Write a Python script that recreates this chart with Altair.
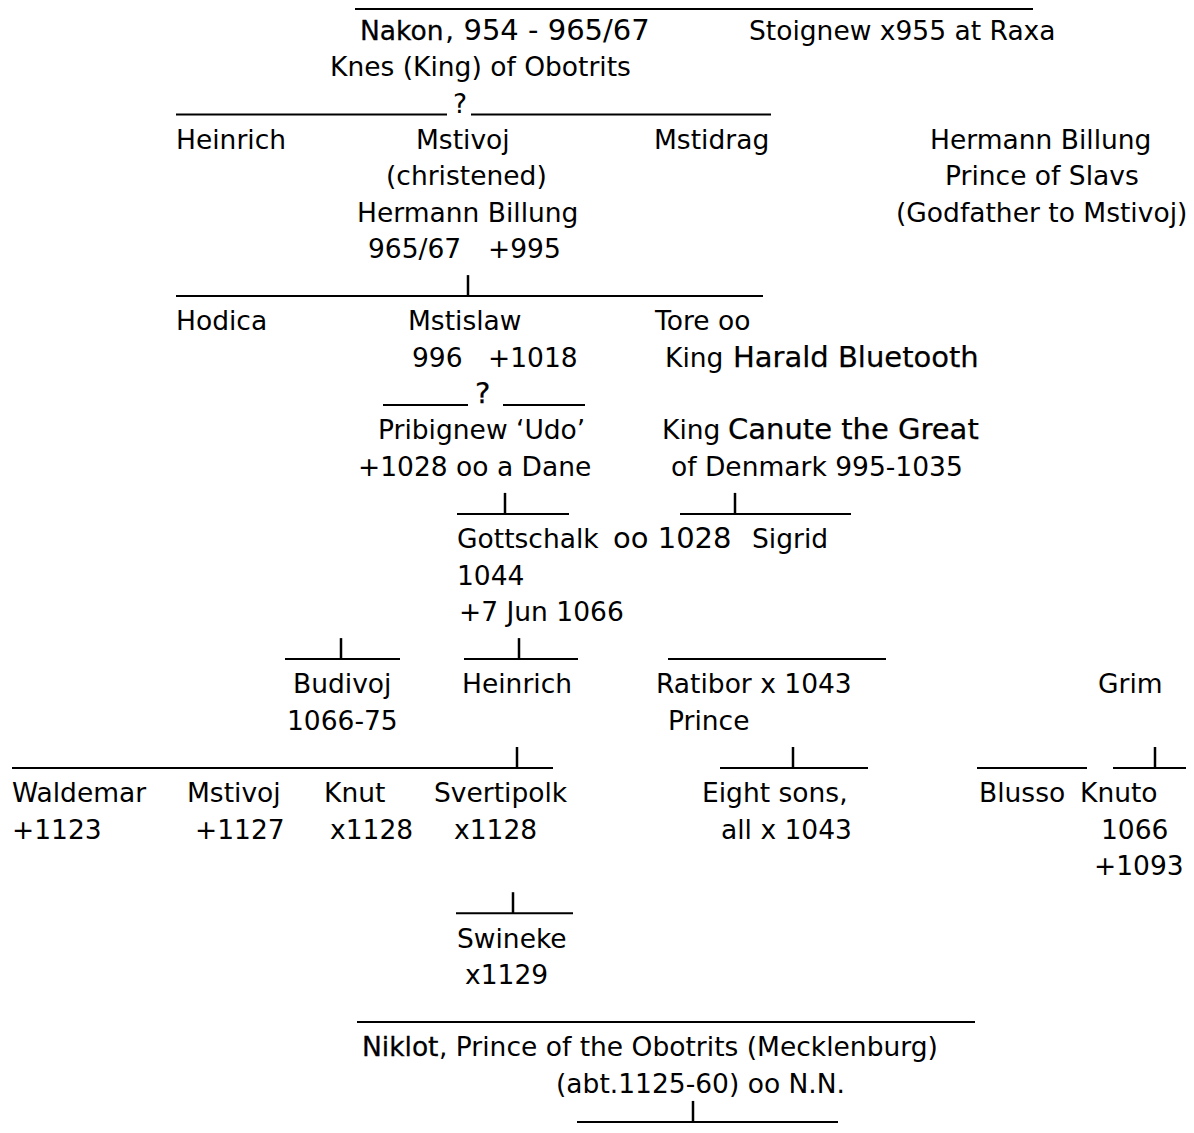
import altair as alt
import pandas as pd

# ---- genealogy text items: row, x-left, label, style ----
rows = [1, 1, 1,
        2,
        3,
        4, 4, 4, 4,
        5, 5,
        6, 6,
        7, 7,
        9, 9, 9,
        10, 10, 10, 10,
        11,
        12, 12, 12,
        13, 13,
        15, 15, 15,
        16,
        17,
        19, 19, 19, 19,
        20, 20,
        22, 22, 22, 22, 22, 22, 22,
        23, 23, 23, 23, 23, 23,
        24,
        26,
        27,
        29, 29,
        30]
xs = [360, 445, 749,
      330,
      453,
      176, 416, 654, 930,
      386, 945,
      357, 896,
      368, 488,
      176, 408, 655,
      412, 488, 665, 733,
      475,
      378, 662, 728,
      358, 671,
      457, 613, 752,
      457,
      459,
      293, 462, 656, 1098,
      287, 668,
      12, 187, 324, 434, 702, 979, 1080,
      12, 195, 330, 454, 721, 1101,
      1094,
      457,
      465,
      362, 439,
      556]
labels = ["Nakon", ", 954 - 965/67", "Stoignew x955 at Raxa",
          "Knes (King) of Obotrits",
          "?",
          "Heinrich", "Mstivoj", "Mstidrag", "Hermann Billung",
          "(christened)", "Prince of Slavs",
          "Hermann Billung", "(Godfather to Mstivoj)",
          "965/67", "+995",
          "Hodica", "Mstislaw", "Tore oo",
          "996", "+1018", "King", "Harald Bluetooth",
          "?",
          "Pribignew \u2018Udo\u2019", "King", "Canute the Great",
          "+1028 oo a Dane", "of Denmark 995-1035",
          "Gottschalk", "oo 1028", "Sigrid",
          "1044",
          "+7 Jun 1066",
          "Budivoj", "Heinrich", "Ratibor x 1043", "Grim",
          "1066-75", "Prince",
          "Waldemar", "Mstivoj", "Knut", "Svertipolk", "Eight sons,", "Blusso", "Knuto",
          "+1123", "+1127", "x1128", "x1128", "all x 1043", "1066",
          "+1093",
          "Swineke",
          "x1129",
          "Niklot", ", Prince of the Obotrits (Mecklenburg)",
          "(abt.1125-60) oo N.N."]
styles = ["name", "wide", "main",
          "main",
          "main",
          "main", "main", "main", "main",
          "main", "main",
          "main", "main",
          "main", "main",
          "main", "main", "main",
          "main", "main", "main", "king",
          "king",
          "main", "main", "king",
          "main", "main",
          "main", "wide", "main",
          "main",
          "main",
          "main", "main", "main", "main",
          "main", "main",
          "main", "main", "main", "main", "main", "main", "main",
          "main", "main", "main", "main", "main", "main",
          "main",
          "main",
          "main",
          "name", "main",
          "main"]

# ---- connector lines (underscore runs) ----
line_rows = [0, 3, 3, 8, 11, 11, 14, 14, 18, 18, 18, 21, 21, 21, 21, 25, 28, 30.75]
line_x1 = [355, 176, 471, 176, 383, 503, 457, 680, 285, 464, 668, 12, 720, 977, 1113, 456, 357, 577]
line_x2 = [1033, 447, 771, 763, 468, 585, 569, 851, 400, 578, 886, 553, 868, 1087, 1192, 573, 975, 838]

# ---- vertical joints "|" ----
tick_rows = [8, 14, 14, 18, 18, 21, 21, 21, 25, 30.75]
tick_x = [468, 505, 735, 341, 519, 517, 793, 1155, 513, 693]

ROW0 = 40.0
STEP = 36.3
TOP = 9.0


def base(r):
    return ROW0 + (r - 1) * STEP


text_df = pd.DataFrame({"row": rows, "x": xs, "label": labels, "style": styles})
text_df["y"] = text_df["row"].map(base)
line_df = pd.DataFrame({"row": line_rows, "x": line_x1, "x2": line_x2})
line_df["y"] = (line_df["row"].map(base) + 2).clip(lower=TOP)
tick_df = pd.DataFrame({"row": tick_rows, "x": tick_x})
tick_df["y"] = tick_df["row"].map(base) - 19
tick_df["y2"] = tick_df["row"].map(base) + 2

W = 1178
H = 1117
xs_ = alt.Scale(domain=[8, 8 + W], nice=False, zero=False)
ys_ = alt.Scale(domain=[8, 8 + H], nice=False, zero=False, reverse=True)
X = alt.X("x:Q", scale=xs_, axis=None)
Y = alt.Y("y:Q", scale=ys_, axis=None)


def text_layer(style, size, stroke_w=0.0):
    kw = dict(align="left", baseline="alphabetic", font="DejaVu Sans",
              fontSize=size, color="#000000")
    if stroke_w > 0:
        kw.update(stroke="#000000", strokeWidth=stroke_w)
    return alt.Chart(text_df).transform_filter(alt.datum.style == style).mark_text(
        **kw
    ).encode(x=X, y=Y, text="label:N")


main_txt = text_layer("main", 26.5)
wide_txt = text_layer("wide", 29)
name_txt = text_layer("name", 26.5, 0.3)
king_txt = text_layer("king", 29, 0.25)

lines = alt.Chart(line_df).mark_rule(color="#000000", strokeWidth=2).encode(
    x=X, x2="x2:Q", y=Y
)

ticks = alt.Chart(tick_df).mark_rule(color="#000000", strokeWidth=2.5).encode(
    x=X, y=Y, y2="y2:Q"
)

chart = alt.layer(lines, ticks, main_txt, wide_txt, name_txt, king_txt).properties(
    width=W, height=H, padding=0, autosize=alt.AutoSizeParams(type="none"),
    background="#ffffff"
).configure_view(stroke=None)

chart.save("out.html", embed_options={"renderer": "svg", "actions": False})
